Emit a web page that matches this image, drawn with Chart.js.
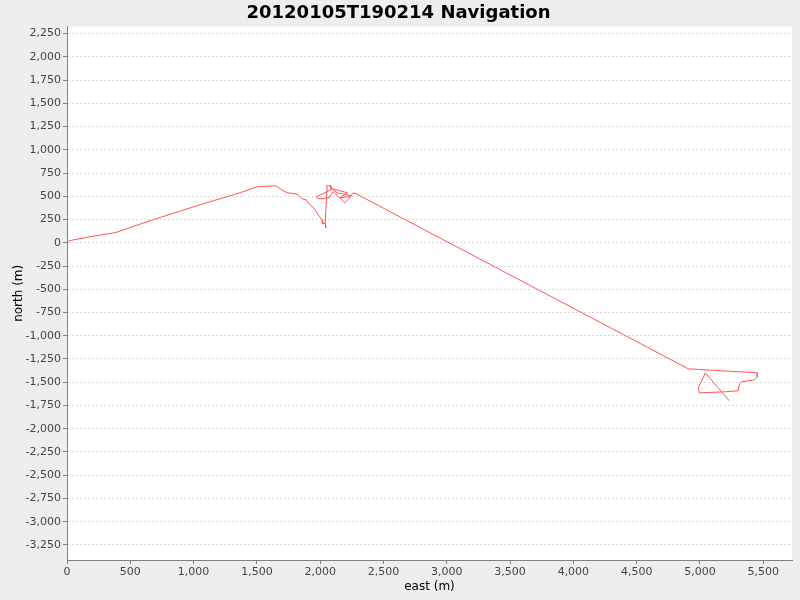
<!DOCTYPE html>
<html>
<head>
<meta charset="utf-8">
<script src="https://cdn.jsdelivr.net/npm/chart.js@4"></script>
<style>
  html, body { margin: 0; padding: 0; background: #eeeeee; }
  #wrap { width: 800px; height: 600px; }
</style>
</head>
<body>
<div id="wrap"><canvas id="mycanvas" width="800" height="600"></canvas></div>
<script>
// track points, metres
var east = [0, 16, 55, 182, 379, 656, 1051, 1367, 1502, 1644, 1660, 1707, 1739, 1802, 1826,
	1841, 1857, 1889, 1905, 1936, 1960, 1984, 2015, 2019, 2039, 2047, 2039, 2055, 2047, 2086,
	2086, 1968, 1984, 2071, 2102, 2197, 2244, 2134, 2094, 2213, 2158, 2221, 2237, 2252, 2268,
	4908, 5453, 5453, 5429, 5327, 5311, 5303, 5200, 4995, 4987, 5042, 5232];
var north = [0, 22, 32, 65, 108, 237, 409, 538, 603, 613, 603, 560, 538, 527, 516,
	495, 473, 463, 430, 387, 355, 301, 247, 204, 215, 161, 204, 603, 613, 613,
	570, 495, 473, 484, 549, 430, 506, 538, 581, 538, 484, 495, 484, 527, 538,
	-1356, -1399, -1442, -1474, -1496, -1517, -1592, -1603, -1614, -1560, -1399, -1700];

var xTicks = [0, 500, 1000, 1500, 2000, 2500, 3000, 3500, 4000, 4500, 5000, 5500];
var yTicks = [-3250, -3000, -2750, -2500, -2250, -2000, -1750, -1500, -1250, -1000, -750, -500,
	-250, 0, 250, 500, 750, 1000, 1250, 1500, 1750, 2000, 2250];

var points = [];
for (var i in east) {
	points.push({x: east[i], y: north[i]});
}

var plotBg = {
	id: 'plotBg',
	beforeDraw: function(chart) {
		var a = chart.chartArea, c = chart.ctx;
		c.save();
		c.fillStyle = '#eeeeee';
		c.fillRect(0, 0, chart.width, chart.height);
		c.fillStyle = '#ffffff';
		c.fillRect(a.left, a.top, a.right - a.left, a.bottom - a.top);
		c.restore();
	}
};

function fmt(v) {
	return v.toLocaleString('en-US');
}

Chart.defaults.font.family = 'DejaVu Sans';
Chart.defaults.color = '#444444';

var ctx = document.getElementById('mycanvas');
new Chart(ctx, {
	type: 'scatter',
	data: {
		datasets: [{
			label: 'Navigation',
			data: points,
			showLine: true,
			borderColor: '#ff5555',
			backgroundColor: '#ff5555',
			borderWidth: 1,
			pointRadius: 0,
			tension: 0
		}]
	},
	options: {
		responsive: false,
		animation: false,
		events: [],
		layout: { padding: { left: 5, right: 8, top: 0, bottom: 0 } },
		plugins: {
			legend: { display: false },
			tooltip: { enabled: false },
			title: {
				display: true,
				text: '20120105T190214 Navigation',
				color: '#000000',
				font: { size: 18, weight: 'bold' },
				padding: { top: 3, bottom: 2 }
			}
		},
		scales: {
			x: {
				type: 'linear',
				min: 0,
				max: 5727,
				afterBuildTicks: function(scale) {
					scale.ticks = xTicks.map(function(v) { return {value: v}; });
				},
				afterFit: function(scale) { scale.height = 40; },
				ticks: { callback: fmt, font: { size: 11 }, color: '#444444', maxRotation: 0, padding: 2 },
				grid: { drawOnChartArea: false, drawTicks: true, tickLength: 4, tickColor: '#808080' },
				border: { display: true, color: '#808080' },
				title: { display: true, text: 'east (m)', color: '#000000', font: { size: 12 }, padding: { top: 2, bottom: 6 } }
			},
			y: {
				type: 'linear',
				min: -3412,
				max: 2325,
				afterBuildTicks: function(scale) {
					scale.ticks = yTicks.map(function(v) { return {value: v}; });
				},
				afterFit: function(scale) { scale.width = 62; },
				ticks: { callback: fmt, font: { size: 11 }, color: '#444444', padding: 2 },
				grid: {
					color: '#d8d8d8',
					tickLength: 4,
					tickColor: '#808080',
					tickBorderDash: []
				},
				border: { display: true, color: '#808080', dash: [2, 2] },
				title: { display: true, text: 'north (m)', color: '#000000', font: { size: 12 }, padding: { top: 7, bottom: 0 } }
			}
		}
	},
	plugins: [plotBg]
});
</script>
</body>
</html>
